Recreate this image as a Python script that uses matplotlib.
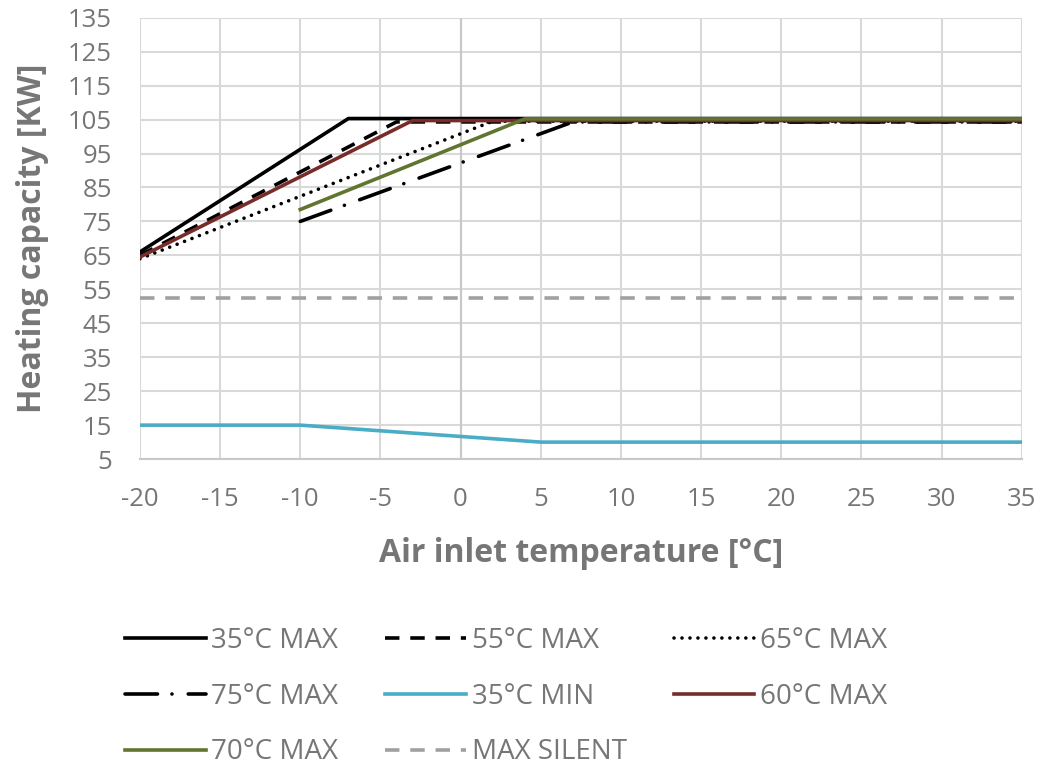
import matplotlib
matplotlib.use("Agg")
import matplotlib.pyplot as plt

# series data
t_35max = [-20, -7, 35]
q_35max = [66, 105.3, 105.3]
t_55max = [-20, -4, 35]
q_55max = [65, 104.3, 104.3]
t_65max = [-20, 2, 35]
q_65max = [64, 104.5, 104.5]
t_75max = [-10, 7, 35]
q_75max = [75, 104.3, 104.3]
t_35min = [-20, -10, 5, 35]
q_35min = [15, 15, 10, 10]
t_60max = [-20, -3, 35]
q_60max = [64.5, 104.7, 104.7]
t_70max = [-10, 4, 35]
q_70max = [78.5, 105.2, 105.2]
t_silent = [-20, 35]
q_silent = [52.5, 52.5]

xticks = list(range(-20, 36, 5))
yticks = list(range(5, 136, 10))

grey = "#767676"
plt.rcParams['font.family'] = ['Open Sans', 'DejaVu Sans']
plt.rcParams['axes.unicode_minus'] = False

fig = plt.figure(figsize=(10.6, 7.69), dpi=100)
ax = fig.add_axes([0.132, 0.403, 0.832, 0.574])

lw = 2.6
h1, = ax.plot(t_35max, q_35max, color="black", lw=lw, label="35°C MAX")
h2, = ax.plot(t_55max, q_55max, color="black", lw=lw, ls=(0, (4, 3)), label="55°C MAX")
h3, = ax.plot(t_65max, q_65max, color="black", lw=lw, ls=(0, (0.01, 2.2)),
              dash_capstyle="round", label="65°C MAX")
h4, = ax.plot(t_75max, q_75max, color="black", lw=lw, ls=(0, (9, 4, 0.01, 4.5)),
              dash_capstyle="round", label="75°C MAX")
h5, = ax.plot(t_35min, q_35min, color="#4bacc6", lw=lw, label="35°C MIN")
h6, = ax.plot(t_60max, q_60max, color="#772c2a", lw=lw, label="60°C MAX")
h7, = ax.plot(t_70max, q_70max, color="#5f7530", lw=lw, label="70°C MAX")
h8, = ax.plot(t_silent, q_silent, color="#a0a0a0", lw=lw, ls=(0, (4, 3)), label="MAX SILENT")

ax.set_xlim(-20, 35)
ax.set_ylim(5, 135)
ax.set_xticks(xticks)
ax.set_yticks(yticks)
ax.grid(True, color="#d9d9d9", lw=1.5)
ax.axvline(0, color="#c8c8c8", lw=1.5, zorder=1)
ax.set_axisbelow(True)
for s in ["top", "right", "left"]:
    ax.spines[s].set_visible(False)
ax.spines["bottom"].set_color("#c8c8c8")
ax.spines["bottom"].set_linewidth(1.5)
ax.tick_params(length=0, labelsize=18.5, labelcolor=grey, pad=20)

ax.set_xlabel("Air inlet temperature [°C]", fontsize=23, fontweight="bold",
              color=grey, labelpad=18)
ax.set_ylabel("Heating capacity [KW]", fontsize=23, fontweight="bold",
              color=grey, labelpad=14)

# legend filled column-wise, so order handles to read row by row
handles = [h1, h4, h7, h2, h5, h8, h3, h6]
fig.legend(handles=handles, labels=[h.get_label() for h in handles],
           loc="upper left", bbox_to_anchor=(0.118, 0.185), ncol=3, frameon=False,
           fontsize=20, labelcolor=grey, handlelength=2.9, handletextpad=0.2,
           columnspacing=1.7, labelspacing=1.0, borderpad=0, borderaxespad=0)

fig.savefig("out.png", dpi=100)
